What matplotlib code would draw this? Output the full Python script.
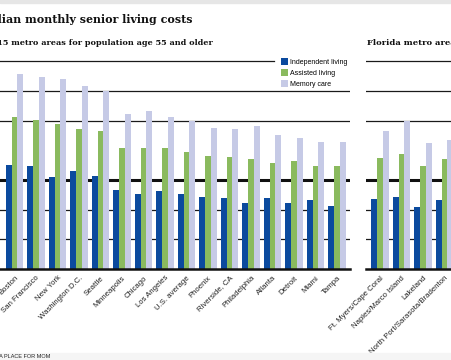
import matplotlib
matplotlib.use("Agg")
import matplotlib.pyplot as plt
from matplotlib.patches import Patch, Rectangle
import numpy as np

metros = ["Boston", "San Francisco", "New York", "Washington D.C.", "Seattle",
          "Minneapolis", "Chicago", "Los Angeles", "U.S. average", "Phoenix",
          "Riverside, CA", "Philadelphia", "Atlanta", "Detroit", "Miami", "Tampa"]
independent = [3500, 3470, 3100, 3300, 3130, 2660, 2530, 2630, 2530, 2420,
               2390, 2220, 2390, 2220, 2320, 2120]
assisted = [5120, 5020, 4880, 4710, 4650, 4070, 4070, 4070, 3940, 3800,
            3770, 3700, 3570, 3640, 3470, 3470]
memory = [6570, 6460, 6400, 6160, 5990, 5220, 5320, 5120, 4980, 4750,
          4710, 4810, 4510, 4410, 4280, 4280]

fl_metros = ["Ft. Myers/Cape Coral", "Naples/Marco Island", "Lakeland",
             "North Port/Sarasota/Bradenton"]
fl_independent = [2360, 2420, 2090, 2320]
fl_assisted = [3740, 3870, 3470, 3700]
fl_memory = [4650, 4980, 4240, 4340]

series_names = ["Independent living", "Assisted living", "Memory care"]
colors = ["#0b4a9e", "#8aba5e", "#c6cae6"]

W, H = 452, 360
fig = plt.figure(figsize=(W / 100, H / 100), dpi=100)
fig.patch.set_facecolor("white")

def fx(px):
    return px / W

def fy(py):
    return (H - py) / H

# faint bands at top and bottom
fig.patches.append(Rectangle((0, fy(3)), 1, 3 / H, transform=fig.transFigure,
                             color="#e6e6e6", zorder=0))
fig.patches.append(Rectangle((0, 0), 1, 7 / H, transform=fig.transFigure,
                             color="#f5f5f5", zorder=0))

ymax = 7200
px_per_k = 29.7
base_px = 269
ax_h = ymax / 1000 * px_per_k

bw = 0.27
sp = 21.5

ax1 = fig.add_axes([fx(0), fy(base_px), fx(350), ax_h / H])
ax2 = fig.add_axes([fx(366), fy(base_px), fx(W - 366), ax_h / H])

def draw(ax, labels, ind, asst, mem, xlim, top_xmax):
    x = np.arange(len(labels))
    for k, vals in enumerate([ind, asst, mem]):
        ax.bar(x + (k - 1) * bw, vals, width=bw, color=colors[k],
               linewidth=0, zorder=3, label=series_names[k])
    for g in [1000, 2000, 5000, 6000]:
        ax.axhline(g, color="#1a1a1a", lw=0.9, zorder=1)
    ax.axhline(7000, xmin=0, xmax=top_xmax, color="#1a1a1a", lw=0.9, zorder=1)
    ax.axhline(3000, color="#111111", lw=2.2, zorder=1)
    ax.axhline(0, color="#111111", lw=1.8, zorder=4, clip_on=False)
    ax.set_xlim(*xlim)
    ax.set_ylim(0, ymax)
    for s in ax.spines.values():
        s.set_visible(False)
    ax.set_yticks([])
    ax.set_xticks(x)
    ax.set_xticklabels(labels, rotation=45, ha="right", rotation_mode="anchor",
                       fontsize=5.6, family="Liberation Sans", color="#222222")
    ax.tick_params(axis="x", length=0, pad=4)
    ax.set_facecolor("none")

draw(ax1, metros, independent, assisted, memory,
     (-14.5 / sp, (350 - 14.5) / sp), 274 / 350)
draw(ax2, fl_metros, fl_independent, fl_assisted, fl_memory,
     (-14 / sp, (W - 366 - 14) / sp), 1.0)

handles = [Patch(facecolor=c, edgecolor="none") for c in colors]
fig.legend(handles, series_names, loc="upper left",
           bbox_to_anchor=(fx(278), fy(55)), frameon=False, borderpad=0,
           prop={"family": "Liberation Sans", "size": 5.0},
           handlelength=1.0, handleheight=1.0, handletextpad=0.3,
           labelspacing=0.5)

fig.text(fx(193), fy(23), "Median monthly senior living costs", ha="right",
         va="baseline", fontsize=7.9, fontweight="bold", family="DejaVu Serif",
         color="#111111")
fig.text(fx(213), fy(45), "Top 15 metro areas for population age 55 and older",
         ha="right", va="baseline", fontsize=5.85, fontweight="bold",
         family="DejaVu Serif", color="#111111")
fig.text(fx(367), fy(45), "Florida metro areas", ha="left", va="baseline",
         fontsize=6.0, fontweight="bold", family="DejaVu Serif", color="#111111")
fig.text(fx(50), fy(358.5), "SOURCE: A PLACE FOR MOM", ha="right",
         va="baseline", fontsize=4.0, family="Liberation Sans", color="#222222")

fig.savefig("out.png", dpi=100)
